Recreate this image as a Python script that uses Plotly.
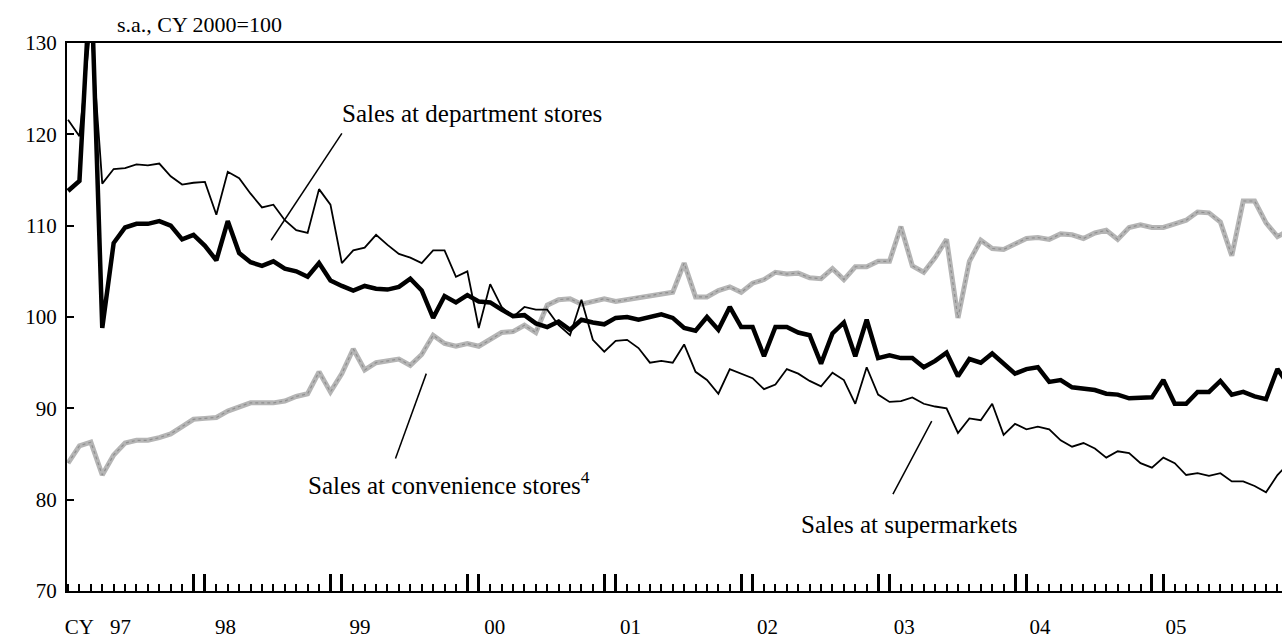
import plotly.graph_objects as go

# month index 0 = Jan 1997
months = list(range(108))

dept_stores = [
    113.8, 114.9, 138.0, 98.8, 108.1, 109.8, 110.2, 110.2, 110.5, 110.0, 108.5, 109.0,
    107.8, 106.2, 110.5, 107.0, 106.0, 105.6, 106.1, 105.3, 105.0, 104.4, 105.9, 104.0,
    103.4, 102.9, 103.4, 103.1, 103.0, 103.3, 104.2, 102.9, 99.9, 102.3, 101.6, 102.4,
    101.7, 101.6, 100.8, 100.1, 100.2, 99.3, 98.9, 99.5, 98.6, 99.7, 99.4, 99.2,
    99.9, 100.0, 99.7, 100.0, 100.3, 99.9, 98.8, 98.5, 100.0, 98.6, 101.1, 98.9,
    98.9, 95.7, 98.9, 98.9, 98.3, 98.0, 94.9, 98.2, 99.4, 95.7, 99.7, 95.5,
    95.8, 95.5, 95.5, 94.5, 95.2, 96.1, 93.5, 95.4, 95.0, 96.0, 94.9, 93.8,
    94.3, 94.5, 92.9, 93.1, 92.3, 92.1, 92.0, 91.6, 91.5, 91.1, 91.1, 91.2,
    93.1, 90.5, 90.5, 91.8, 91.8, 93.0, 91.5, 91.8, 91.3, 91.0, 94.3, 92.5,
]

supermarkets = [
    121.6, 119.8, 132.0, 114.6, 116.2, 116.3, 116.7, 116.6, 116.8, 115.4, 114.5, 114.7,
    114.8, 111.2, 115.9, 115.2, 113.5, 112.0, 112.3, 110.6, 109.5, 109.2, 114.0, 112.3,
    105.9, 107.3, 107.6, 109.0, 107.9, 106.9, 106.5, 105.9, 107.3, 107.3, 104.4, 105.0,
    98.8, 103.6, 101.1, 100.0, 101.1, 100.8, 100.8, 99.1, 98.0, 101.9, 97.5, 96.2,
    97.4, 97.5, 96.6, 95.0, 95.2, 95.0, 97.0, 94.0, 93.1, 91.6, 94.3, 93.8,
    93.3, 92.1, 92.6, 94.3, 93.8, 93.0, 92.4, 93.9, 93.1, 90.5, 94.5, 91.5,
    90.7, 90.8, 91.2, 90.5, 90.2, 90.0, 87.3, 88.9, 88.7, 90.5, 87.1, 88.3,
    87.7, 88.0, 87.7, 86.5, 85.8, 86.2, 85.6, 84.6, 85.3, 85.1, 84.0, 83.5,
    84.6, 84.0, 82.7, 82.9, 82.6, 82.9, 82.0, 82.0, 81.5, 80.8, 82.7, 84.0,
]

convenience = [
    84.0, 85.9, 86.3, 82.7, 84.9, 86.2, 86.5, 86.5, 86.8, 87.2, 88.0, 88.8,
    88.9, 89.0, 89.7, 90.2, 90.6, 90.6, 90.6, 90.8, 91.3, 91.6, 94.0, 91.8,
    93.8, 96.5, 94.2, 95.0, 95.2, 95.4, 94.7, 95.9, 98.0, 97.1, 96.8, 97.1,
    96.8, 97.5, 98.3, 98.4, 99.1, 98.3, 101.3, 101.9, 102.0, 101.4, 101.7, 102.0,
    101.7, 101.9, 102.2, 102.3, 102.6, 102.7, 105.9, 102.2, 102.2, 102.9, 103.3, 102.7,
    103.7, 104.1, 104.9, 104.7, 104.8, 104.3, 104.2, 105.3, 104.1, 105.5, 105.5, 106.1,
    106.1, 109.9, 105.6, 104.9, 106.5, 108.5, 99.9, 106.1, 108.4, 107.5, 107.4, 108.0,
    108.6, 108.7, 108.5, 109.1, 109.0, 108.6, 109.2, 109.5, 108.5, 109.8, 110.1, 109.8,
    109.8, 110.2, 110.6, 111.5, 111.4, 110.4, 106.7, 112.7, 112.7, 110.3, 108.8, 109.5,
]

year_labels = ["CY", "97", "98", "99", "00", "01", "02", "03", "04", "05"]
year_label_pos = [1.0, 4.6, 13.8, 25.6, 37.4, 49.3, 61.3, 73.3, 85.2, 97.1]
year_edge_ticks = [m for y in range(1, 10) for m in (12 * y - 1, 12 * y)]

y_ticks = [70, 80, 90, 100, 110, 120, 130]

FONT = "Times New Roman, Liberation Serif, serif"

fig = go.Figure()
fig.add_trace(go.Scatter(x=months, y=convenience, mode="lines",
                         line=dict(color="#b5b5b5", width=5), showlegend=False))
fig.add_trace(go.Scatter(x=months, y=convenience, mode="lines",
                         line=dict(color="#8f8f8f", width=1.2, dash="dot"), showlegend=False))
fig.add_trace(go.Scatter(x=months, y=supermarkets, mode="lines",
                         line=dict(color="black", width=1.8), showlegend=False))
fig.add_trace(go.Scatter(x=months, y=dept_stores, mode="lines",
                         line=dict(color="black", width=4.5), showlegend=False))
# trace carrying the label axis
fig.add_trace(go.Scatter(x=[0, 106], y=[100, 100], xaxis="x2", mode="lines",
                         line=dict(width=0), opacity=0, showlegend=False,
                         hoverinfo="skip"))

x_range = [-0.09, 106.4]

fig.update_layout(
    width=1282, height=639,
    margin=dict(l=67, r=0, t=43, b=48),
    paper_bgcolor="white", plot_bgcolor="white",
    font=dict(family=FONT, size=21, color="black"),
    xaxis=dict(
        range=x_range, showgrid=False, zeroline=False,
        showline=True, linecolor="black", linewidth=2, mirror=True,
        tickmode="array", tickvals=year_edge_ticks, ticks="inside",
        ticklen=17, tickwidth=3, tickcolor="black", showticklabels=False,
        minor=dict(tickmode="linear", tick0=0, dtick=1, ticks="inside",
                   ticklen=7, tickwidth=1.5, tickcolor="black"),
    ),
    xaxis2=dict(
        range=x_range, overlaying="x", side="bottom", showgrid=False,
        zeroline=False, showline=False, ticks="",
        tickmode="array", tickvals=year_label_pos, ticktext=year_labels,
        ticklabelstandoff=21, tickfont=dict(size=21, family=FONT),
    ),
    yaxis=dict(
        range=[70, 130], showgrid=False, zeroline=False,
        showline=True, linecolor="black", linewidth=2,
        tickmode="array", tickvals=y_ticks, ticks="inside",
        ticklen=7, tickwidth=1.5, tickcolor="black",
        tickfont=dict(size=21, family=FONT), ticklabelstandoff=4,
    ),
)

# leader lines
leaders = [
    (24.0, 120.1, 17.8, 108.4),
    (31.4, 93.8, 28.7, 84.5),
    (75.7, 88.6, 72.3, 80.6),
]
for x0, y0, x1, y1 in leaders:
    fig.add_shape(type="line", xref="x", yref="y", x0=x0, y0=y0, x1=x1, y1=y1,
                  line=dict(color="black", width=1.5))

ann_font = dict(family=FONT, size=25, color="black")
fig.add_annotation(x=23.8, y=122.3, xref="x", yref="y", text="Sales at department stores",
                   showarrow=False, xanchor="left", yanchor="middle", font=ann_font)
fig.add_annotation(x=20.9, y=81.8, xref="x", yref="y", text="Sales at convenience stores<sup>4</sup>",
                   showarrow=False, xanchor="left", yanchor="middle", font=ann_font)
fig.add_annotation(x=64.1, y=77.3, xref="x", yref="y", text="Sales at supermarkets",
                   showarrow=False, xanchor="left", yanchor="middle", font=ann_font)
fig.add_annotation(x=0.0395, y=1.034, xref="paper", yref="paper", text="s.a., CY 2000=100",
                   showarrow=False, xanchor="left", yanchor="middle",
                   font=dict(family=FONT, size=22, color="black"))

fig.write_html("out.html", config={"displayModeBar": False},
               post_script="document.body.style.margin='0';document.body.style.overflow='hidden';")
